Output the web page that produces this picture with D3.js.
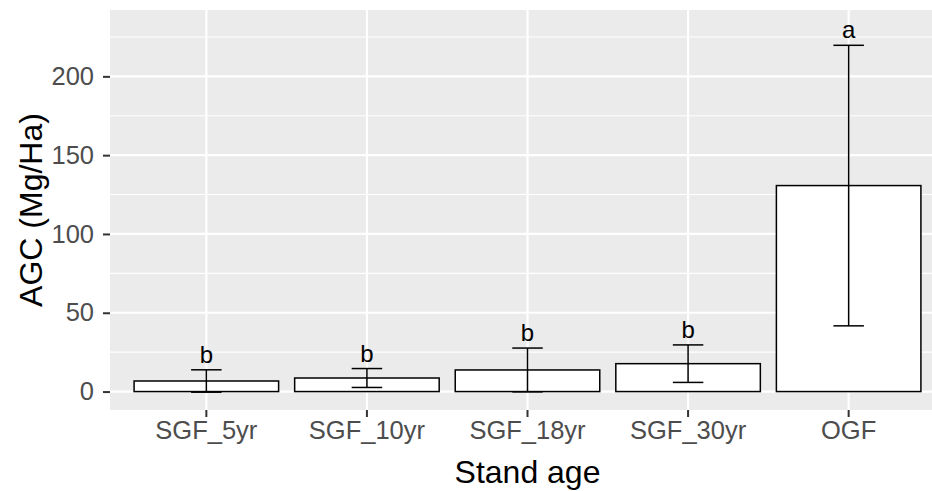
<!DOCTYPE html>
<html>
<head>
<meta charset="utf-8">
<script src="https://cdn.jsdelivr.net/npm/d3@7"></script>
<style>
  html, body { margin: 0; padding: 0; background: #ffffff; }
  svg { display: block; font-family: "Liberation Sans", Arial, sans-serif; }
</style>
</head>
<body>
<svg id="chart" width="932" height="491"></svg>
<script>
// Stand-age classes and aboveground carbon (mean ± SE)
const categories = ["SGF_5yr", "SGF_10yr", "SGF_18yr", "SGF_30yr", "OGF"];
const meanAGC = [6.7, 8.6, 13.7, 17.7, 130.7];
const seAGC = [7.1, 6.0, 13.9, 11.9, 89.0];
const groupLetters = ["b", "b", "b", "b", "a"];
const yMajorTicks = [0, 50, 100, 150, 200];
const yMinorTicks = [25, 75, 125, 175, 225];

const svg = d3.select("#chart");
const panel = { left: 110, right: 945, top: 10, bottom: 410 };

const x = d3.scaleBand()
  .domain(categories)
  .range([panel.left, panel.right])
  .paddingInner(0.1)
  .paddingOuter(0.15);
const step = x.step();
const center = c => x(c) + x.bandwidth() / 2;

const y = d3.scaleLinear()
  .domain([-11.7, 242.1])
  .range([panel.bottom, panel.top]);

// panel background
svg.append("rect")
  .attr("x", panel.left).attr("y", panel.top)
  .attr("width", panel.right - panel.left)
  .attr("height", panel.bottom - panel.top)
  .attr("fill", "#EBEBEB");

const grid = svg.append("g");
grid.selectAll(".minor").data(yMinorTicks).join("line")
  .attr("x1", panel.left).attr("x2", panel.right)
  .attr("y1", d => y(d)).attr("y2", d => y(d))
  .attr("stroke", "#ffffff").attr("stroke-width", 1.1);
grid.selectAll(".major").data(yMajorTicks).join("line")
  .attr("x1", panel.left).attr("x2", panel.right)
  .attr("y1", d => y(d)).attr("y2", d => y(d))
  .attr("stroke", "#ffffff").attr("stroke-width", 2.2);
grid.selectAll(".vmajor").data(categories).join("line")
  .attr("x1", d => center(d)).attr("x2", d => center(d))
  .attr("y1", panel.top).attr("y2", panel.bottom)
  .attr("stroke", "#ffffff").attr("stroke-width", 2.2);

const rows = categories.map((c, i) => ({
  c, mean: meanAGC[i], lo: meanAGC[i] - seAGC[i], hi: meanAGC[i] + seAGC[i], letter: groupLetters[i]
}));

// bars
svg.append("g").selectAll("rect").data(rows).join("rect")
  .attr("x", d => x(d.c))
  .attr("y", d => y(d.mean))
  .attr("width", x.bandwidth())
  .attr("height", d => y(0) - y(d.mean))
  .attr("fill", "#ffffff")
  .attr("stroke", "#000000")
  .attr("stroke-width", 1.5);

// error bars
const capHalf = step * 0.095;
const eb = svg.append("g").attr("stroke", "#000000").attr("stroke-width", 1.5).attr("fill", "none");
eb.selectAll(".v").data(rows).join("line")
  .attr("x1", d => center(d.c)).attr("x2", d => center(d.c))
  .attr("y1", d => y(d.lo)).attr("y2", d => y(d.hi));
eb.selectAll(".t").data(rows).join("line")
  .attr("x1", d => center(d.c) - capHalf).attr("x2", d => center(d.c) + capHalf)
  .attr("y1", d => y(d.hi)).attr("y2", d => y(d.hi));
eb.selectAll(".b").data(rows).join("line")
  .attr("x1", d => center(d.c) - capHalf).attr("x2", d => center(d.c) + capHalf)
  .attr("y1", d => y(d.lo)).attr("y2", d => y(d.lo));

// significance letters
svg.append("g").selectAll("text").data(rows).join("text")
  .attr("x", d => center(d.c))
  .attr("y", d => y(d.hi) - 7)
  .attr("text-anchor", "middle")
  .attr("font-size", 24)
  .attr("fill", "#000000")
  .text(d => d.letter);

// y axis
const yAxis = svg.append("g")
  .attr("transform", `translate(${panel.left},0)`)
  .call(d3.axisLeft(y).tickValues(yMajorTicks).tickSize(7).tickPadding(9));
yAxis.select(".domain").remove();
yAxis.selectAll(".tick line").attr("stroke", "#333333").attr("stroke-width", 2);
yAxis.selectAll(".tick text")
  .attr("fill", "#4D4D4D")
  .attr("font-size", 25.5)
  .attr("font-family", "Liberation Sans, Arial, sans-serif");

// x axis
const xAxis = svg.append("g")
  .attr("transform", `translate(0,${panel.bottom})`)
  .call(d3.axisBottom(x).tickSize(7).tickPadding(4));
xAxis.select(".domain").remove();
xAxis.selectAll(".tick line").attr("stroke", "#333333").attr("stroke-width", 2);
xAxis.selectAll(".tick text")
  .attr("fill", "#4D4D4D")
  .attr("font-size", 25.5)
  .attr("font-family", "Liberation Sans, Arial, sans-serif");

// axis titles
svg.append("text")
  .attr("x", (panel.left + panel.right) / 2)
  .attr("y", 483)
  .attr("text-anchor", "middle")
  .attr("font-size", 32)
  .attr("fill", "#000000")
  .text("Stand age");

svg.append("text")
  .attr("transform", `translate(42,${(panel.top + panel.bottom) / 2}) rotate(-90)`)
  .attr("text-anchor", "middle")
  .attr("font-size", 32)
  .attr("fill", "#000000")
  .text("AGC (Mg/Ha)");
</script>
</body>
</html>
